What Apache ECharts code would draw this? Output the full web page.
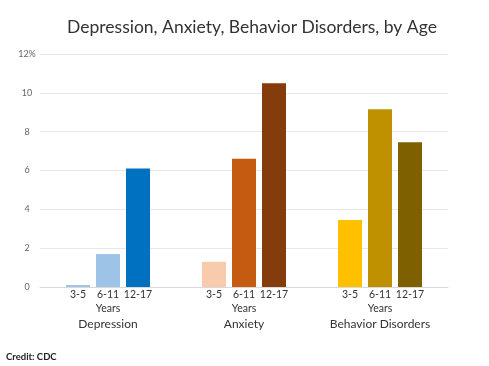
<!DOCTYPE html>
<html><head><meta charset="utf-8">
<script src="https://cdn.jsdelivr.net/npm/echarts@6/dist/echarts.min.js"></script>
<style>html,body{margin:0;padding:0;background:#fff}#c{width:489px;height:366px}</style>
</head><body><div id="c"></div>
<script>
const categories = ['Depression', 'Anxiety', 'Behavior Disorders'];
const ageGroups = ['3-5', '6-11', '12-17'];
const age3to5 = [0.1, 1.3, 3.45];
const age6to11 = [1.7, 6.6, 9.15];
const age12to17 = [6.1, 10.5, 7.45];
const yTicks = [0, 2, 4, 6, 8, 10, 12];
const colors = [
  ['#9dc3e6', '#f8cbad', '#ffc000'],
  ['#9dc3e6', '#c55a11', '#bf9000'],
  ['#0070c0', '#843c0c', '#7f6000']
];
const FONT = 'Lato';
const chart = echarts.init(document.getElementById('c'));
const seriesData = [age3to5, age6to11, age12to17];
chart.setOption({
  animation: false,
  backgroundColor: '#fff',
  title: {
    text: 'Depression, Anxiety, Behavior Disorders, by Age',
    left: 247, top: 13, textAlign: 'center',
    textStyle: { fontFamily: FONT, fontSize: 17.5, fontWeight: 'normal', color: '#333' }
  },
  grid: { left: 40, right: 41, top: 54, bottom: 79 },
  xAxis: {
    type: 'category', data: categories,
    axisLine: { lineStyle: { color: '#d9d9d9' } },
    axisTick: { show: false },
    axisLabel: { margin: 31, fontFamily: FONT, fontSize: 12, color: '#333' }
  },
  yAxis: {
    type: 'value', min: 0, max: 12, interval: 2,
    axisLine: { show: false }, axisTick: { show: false },
    splitLine: { lineStyle: { color: '#e8e8e8' } },
    axisLabel: {
      margin: 13, align: 'center', fontFamily: FONT, fontSize: 9, color: '#666',
      formatter: v => yTicks.includes(v) ? (v === 12 ? '12%' : String(v)) : ''
    }
  },
  series: ageGroups.map((name, i) => ({
    type: 'bar', name: name,
    barWidth: 24, barGap: '25%',
    data: seriesData[i].map((v, j) => ({ value: v, itemStyle: { color: colors[i][j] } })),
    label: {
      show: true, position: 'bottom', distance: 1,
      fontFamily: FONT, fontSize: 10.5, lineHeight: 14, color: '#333',
      formatter: i === 1 ? '{a}\nYears' : '{a}'
    }
  })),
  graphic: [{
    type: 'text', left: 6, top: 352,
    style: { text: 'Credit: CDC', font: 'bold 9.5px Lato', fill: '#222' }
  }]
});
</script></body></html>
